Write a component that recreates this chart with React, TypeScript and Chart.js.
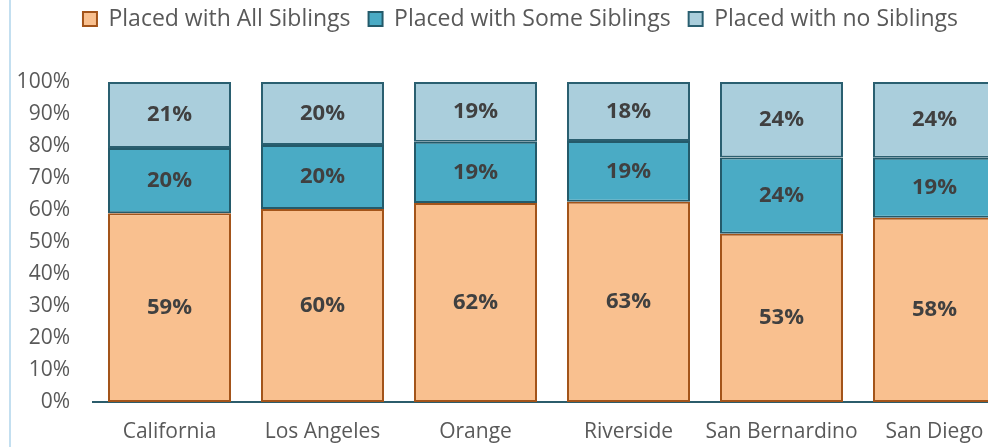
import React, { useEffect, useRef } from "react";
import { Chart, registerables } from "chart.js";

Chart.register(...registerables);

const categories = ["California", "Los Angeles", "Orange", "Riverside", "San Bernardino", "San Diego"];
const seriesNames = ["Placed with All Siblings", "Placed with Some Siblings", "Placed with no Siblings"];
const allSiblings = [59.0, 60.3, 62.2, 62.6, 52.6, 57.6];
const someSiblings = [20.4, 20.0, 19.1, 19.0, 23.8, 18.7];
const noSiblings = [20.6, 19.7, 18.7, 18.4, 23.6, 23.7];
const yTickValues = [0, 10, 20, 30, 40, 50, 60, 70, 80, 90, 100];

const FONT = "'Open Sans', 'Noto Sans', sans-serif";

const segmentLabels = {
  id: "segmentLabels",
  afterDatasetsDraw(chart: any) {
    const ctx = chart.ctx;
    ctx.save();
    ctx.font = `bold 22px ${FONT}`;
    ctx.fillStyle = "#404040";
    ctx.textAlign = "center";
    ctx.textBaseline = "middle";
    chart.data.datasets.forEach((ds: any, i: number) => {
      const meta = chart.getDatasetMeta(i);
      meta.data.forEach((el: any, j: number) => {
        const v = ds.data[j];
        const p = el.getProps(["x", "y", "base"], true);
        ctx.fillText(Math.round(v) + "%", p.x, (p.y + p.base) / 2);
      });
    });
    ctx.restore();
  },
};

// shifts the legend's box so it is centred like the reference's legend
const legendShift = {
  id: "legendShift",
  afterLayout(chart: any) {
    if (chart.legend) chart.legend.left = 30;
  },
};

export default function App() {
  const ref = useRef<HTMLCanvasElement | null>(null);

  useEffect(() => {
    if (!ref.current) return;
    const mk = (label: string, data: number[], bg: string, border: string) => ({
      label,
      data,
      backgroundColor: bg,
      borderColor: border,
      borderWidth: 2,
      borderSkipped: false,
      barPercentage: 0.804,
      categoryPercentage: 1,
    });
    const chart = new Chart(ref.current, {
      type: "bar",
      data: {
        labels: categories,
        datasets: [
          mk(seriesNames[0], allSiblings, "#F9C08F", "#A3541A"),
          mk(seriesNames[1], someSiblings, "#4AABC5", "#245A6A"),
          mk(seriesNames[2], noSiblings, "#AACEDC", "#2A5F70"),
        ],
      },
      options: {
        animation: false,
        responsive: false,
        devicePixelRatio: 1,
        layout: { padding: { left: 0, right: 29, top: -10.5, bottom: 0 } },
        plugins: {
          legend: {
            position: "top",
            labels: {
              boxWidth: 14,
              boxHeight: 14,
              padding: 18,
              color: "#595959",
              font: { family: FONT, size: 23 },
            },
          },
          title: {
            display: true,
            text: "",
            weight: 100,
            padding: { top: 29.5, bottom: 0 },
            font: { size: 10 },
          } as any,
          tooltip: { enabled: false },
        },
        scales: {
          x: {
            stacked: true,
            grid: { display: false, drawTicks: false },
            border: { display: true, color: "#2B5C6B", width: 2 },
            ticks: {
              color: "#595959",
              padding: 17,
              maxRotation: 0,
              minRotation: 0,
              autoSkip: false,
              font: { family: FONT, size: 21 },
            },
            afterFit: (s: any) => {
              s.height = 45;
            },
          },
          y: {
            stacked: true,
            min: 0,
            max: 100,
            grid: { display: false, drawTicks: false },
            border: { display: false },
            afterBuildTicks: (s: any) => {
              s.ticks = yTickValues.map((v) => ({ value: v }));
            },
            ticks: {
              color: "#595959",
              padding: 23,
              font: { family: FONT, size: 21 },
              callback: (v: any) => v + "%",
            },
            afterFit: (s: any) => {
              s.width = 93;
            },
          },
        },
      },
      plugins: [segmentLabels, legendShift],
    } as any);
    return () => chart.destroy();
  }, []);

  return (
    <div
      style={{
        position: "fixed",
        left: 0,
        top: 0,
        width: 988,
        height: 447,
        overflow: "hidden",
        background: "#ffffff",
      }}
    >
      <canvas ref={ref} width={1040} height={447} style={{ position: "absolute", left: 0, top: 0 }} />
      <div style={{ position: "absolute", left: 9, top: 0, width: 2, height: 447, background: "#C3DFF0" }} />
    </div>
  );
}
